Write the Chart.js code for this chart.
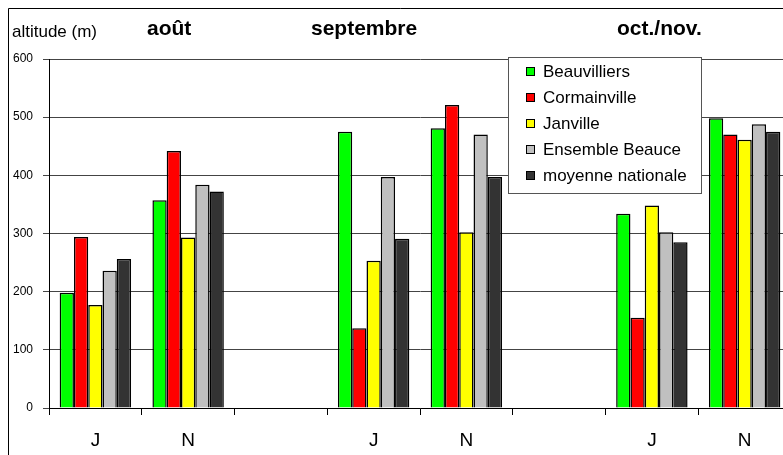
<!DOCTYPE html>
<html>
<head>
<meta charset="utf-8">
<script src="https://cdn.jsdelivr.net/npm/chart.js@4"></script>
<style>
  html, body { margin: 0; padding: 0; background: #fff; overflow: hidden; }
  #wrap { position: relative; width: 792px; height: 455px; }
</style>
</head>
<body>
<div id="wrap"><canvas id="myChart" width="792" height="455"></canvas></div>
<script>
// data
const categories = ["J", "N", "", "J", "N", "", "J", "N"];
const beauvilliers = [198, 357, null, 475, 481, null, 334, 498];
const cormainville = [294, 442, null, 137, 521, null, 155, 470];
const janville = [177, 293, null, 253, 302, null, 348, 461];
const ensembleBeauce = [236, 384, null, 397, 470, null, 302, 488];
const moyenneNationale = [256, 372, null, 291, 397, null, 285, 475];
const seriesNames = ["Beauvilliers", "Cormainville", "Janville", "Ensemble Beauce", "moyenne nationale"];
const periodLabels = ["août", "septembre", "oct./nov."];
const yTicks = [0, 100, 200, 300, 400, 500, 600];

const colors = ["#00ff00", "#ff0000", "#ffff00", "#c0c0c0", "#333333"];
const seriesData = [beauvilliers, cormainville, janville, ensembleBeauce, moyenneNationale];

const datasets = seriesNames.map((name, i) => ({
  label: name,
  data: seriesData[i],
  backgroundColor: colors[i],
  borderColor: "#000",
  borderWidth: 1.5,
  borderSkipped: "bottom",
  barPercentage: 1,
  categoryPercentage: 0.77,
}));

const FONT = "'Liberation Sans', Arial, sans-serif";

// frame, titles and legend drawn on top
const decorations = {
  id: "decorations",
  afterDraw(chart) {
    const ctx = chart.ctx;
    ctx.save();
    // outer frame (top + left)
    ctx.strokeStyle = "#000";
    ctx.lineWidth = 1;
    ctx.beginPath();
    ctx.moveTo(8.5, 455);
    ctx.lineTo(8.5, 8.5);
    ctx.lineTo(792, 8.5);
    ctx.stroke();

    ctx.fillStyle = "#000";
    ctx.textBaseline = "alphabetic";
    ctx.textAlign = "left";
    ctx.font = "17px " + FONT;
    ctx.fillText("altitude (m)", 12, 37);
    ctx.font = "bold 21px " + FONT;
    const periodX = [147, 311, 617];
    periodLabels.forEach((t, i) => ctx.fillText(t, periodX[i], 35));

    // legend box
    const lx = 508.5, ly = 57.5, lw = 193, lh = 136;
    ctx.fillStyle = "#fff";
    ctx.fillRect(lx, ly, lw, lh);
    ctx.strokeStyle = "#555";
    ctx.strokeRect(lx, ly, lw, lh);
    ctx.font = "17px " + FONT;
    ctx.textBaseline = "middle";
    chart.data.datasets.forEach((ds, i) => {
      const y = 71 + i * 26;
      ctx.fillStyle = ds.backgroundColor;
      ctx.fillRect(526, y - 4, 9, 9);
      ctx.strokeStyle = "#000";
      ctx.strokeRect(526.5, y - 3.5, 8, 8);
      ctx.fillStyle = "#000";
      ctx.fillText(ds.label, 543, y + 1);
    });
    ctx.restore();
  },
};

new Chart(document.getElementById("myChart").getContext("2d"), {
  type: "bar",
  data: { labels: categories, datasets },
  options: {
    responsive: false,
    animation: false,
    layout: { padding: { top: 59, left: 0, right: 1, bottom: 0 } },
    scales: {
      x: {
        offset: true,
        grid: {
          display: true,
          offset: true,
          drawOnChartArea: false,
          drawTicks: true,
          tickLength: 7,
          color: "#000",
        },
        border: { color: "#000", width: 1 },
        ticks: {
          color: "#000",
          font: { family: FONT, size: 19 },
          padding: 14,
          maxRotation: 0,
          autoSkip: false,
        },
        afterFit(scale) { scale.height = 47; },
      },
      y: {
        min: 0,
        max: 600,
        afterBuildTicks(scale) { scale.ticks = yTicks.map((v) => ({ value: v })); },
        grid: {
          color: "#444",
          tickLength: 6,
          drawTicks: true,
        },
        border: { color: "#000", width: 1 },
        ticks: {
          color: "#000",
          font: { family: FONT, size: 12 },
          padding: 10,
        },
        afterFit(scale) { scale.width = 49; },
      },
    },
    plugins: {
      legend: { display: false },
      tooltip: { enabled: false },
      title: { display: false },
    },
  },
  plugins: [decorations],
});
</script>
</body>
</html>
